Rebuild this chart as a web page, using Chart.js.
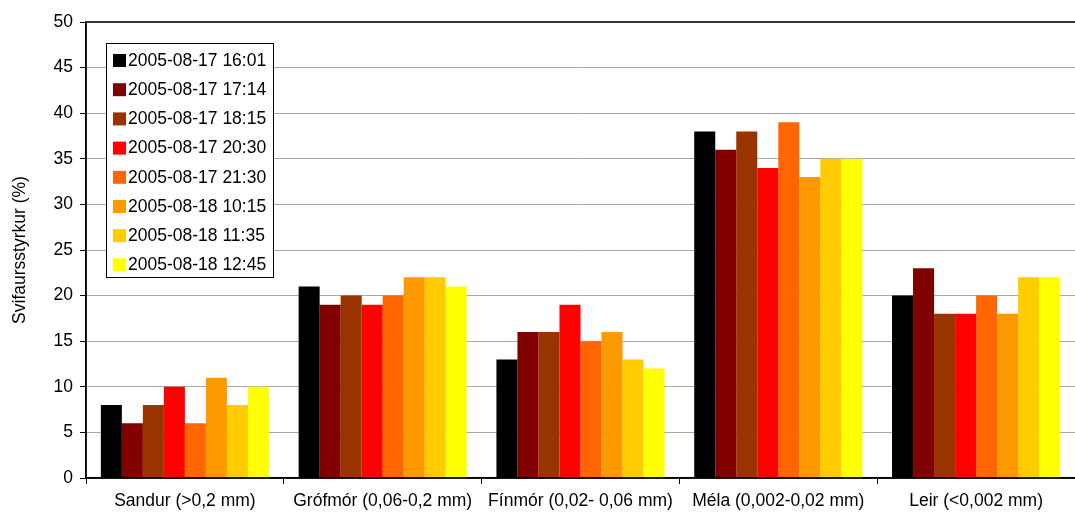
<!DOCTYPE html>
<html>
<head>
<meta charset="utf-8">
<script src="https://cdn.jsdelivr.net/npm/chart.js@4.4.1/dist/chart.umd.min.js"></script>
<style>
html,body{margin:0;padding:0;background:#fff;}
#wrap{width:1075px;height:513px;position:relative;}
</style>
</head>
<body>
<div id="wrap"><canvas id="c"></canvas></div>
<script>
const categories = ["Sandur (>0,2 mm)", "Grófmór (0,06-0,2 mm)", "Fínmór (0,02- 0,06 mm)", "Méla (0,002-0,02 mm)", "Leir (<0,002 mm)"];
const seriesLabels = ["2005-08-17 16:01", "2005-08-17 17:14", "2005-08-17 18:15", "2005-08-17 20:30", "2005-08-17 21:30", "2005-08-18 10:15", "2005-08-18 11:35", "2005-08-18 12:45"];
const s1601 = [8, 21, 13, 38, 20];
const s1714 = [6, 19, 16, 36, 23];
const s1815 = [8, 20, 16, 38, 18];
const s2030 = [10, 19, 19, 34, 18];
const s2130 = [6, 20, 15, 39, 20];
const s1015 = [11, 22, 16, 33, 18];
const s1135 = [8, 22, 13, 35, 22];
const s1245 = [10, 21, 12, 35, 22];
const seriesValues = [s1601, s1714, s1815, s2030, s2130, s1015, s1135, s1245];
const colors = ["#000000", "#800000", "#993300", "#FF0000", "#FF6600", "#FF9900", "#FFCC00", "#FFFF00"];
const yTicks = [0, 5, 10, 15, 20, 25, 30, 35, 40, 45, 50];
const yTitle = "Svifaursstyrkur (%)";

const FONT = "'Liberation Sans', Arial, sans-serif";
const FS = 17.5;

const insideLegend = {
  id: 'insideLegend',
  afterDraw(chart) {
    const ctx = chart.ctx;
    const ca = chart.chartArea;
    const x0 = Math.round(ca.left + 20), y0 = Math.round(ca.top + 21);
    const w = 167, h = 234;
    ctx.save();
    ctx.fillStyle = '#fff';
    ctx.fillRect(x0, y0, w, h);
    ctx.strokeStyle = '#000';
    ctx.lineWidth = 1;
    ctx.strokeRect(x0 + 0.5, y0 + 0.5, w, h);
    ctx.font = FS + "px " + FONT;
    ctx.textBaseline = 'middle';
    chart.data.datasets.forEach((ds, i) => {
      const cy = y0 + 17 + i * 29.2;
      ctx.fillStyle = ds.backgroundColor;
      ctx.fillRect(x0 + 7, cy - 6, 13, 13);
      ctx.fillStyle = '#000';
      ctx.fillText(ds.label, x0 + 22, cy + 1);
    });
    ctx.restore();
  }
};

const frame = {
  id: 'frame',
  afterDatasetsDraw(chart) {
    const ctx = chart.ctx;
    const ca = chart.chartArea;
    ctx.save();
    ctx.strokeStyle = '#333';
    ctx.lineWidth = 2;
    ctx.beginPath();
    ctx.moveTo(ca.left, ca.top);
    ctx.lineTo(ca.right, ca.top);
    ctx.stroke();
    ctx.strokeStyle = '#000';
    ctx.lineWidth = 1.5;
    ctx.beginPath();
    ctx.moveTo(ca.left, ca.top);
    ctx.lineTo(ca.left, ca.bottom);
    ctx.lineTo(ca.right, ca.bottom);
    ctx.stroke();
    ctx.restore();
  }
};

new Chart(document.getElementById('c'), {
  type: 'bar',
  data: {
    labels: categories,
    datasets: seriesLabels.map((l, i) => ({
      label: l,
      data: seriesValues[i],
      backgroundColor: colors[i],
      borderWidth: 0,
      categoryPercentage: 0.85,
      barPercentage: 1.0
    }))
  },
  options: {
    responsive: true,
    maintainAspectRatio: false,
    animation: false,
    layout: { padding: { top: 22, right: 0, bottom: 0, left: 4 } },
    plugins: { legend: { display: false }, tooltip: { enabled: false } },
    scales: {
      x: {
        afterFit(scale) { scale.height = 35; },
        grid: { display: true, drawOnChartArea: false, drawTicks: true, tickLength: 6, offset: true, color: '#000', lineWidth: 1 },
        border: { display: true, color: '#000', width: 1.5 },
        ticks: { color: '#000', font: { family: FONT, size: FS }, padding: 7, maxRotation: 0, autoSkip: false }
      },
      y: {
        min: 0, max: 50,
        afterBuildTicks(axis) { axis.ticks = yTicks.map(v => ({ value: v })); },
        afterFit(scale) { scale.width = 82; },
        grid: { color: '#a8a8a8', lineWidth: 1, tickLength: 6, tickColor: '#000' },
        border: { display: true, color: '#000', width: 1.5 },
        ticks: { color: '#000', font: { family: FONT, size: FS }, padding: 7 },
        title: { display: true, text: yTitle, color: '#000', font: { family: FONT, size: FS }, padding: { top: 6, bottom: 8 } }
      }
    }
  },
  plugins: [frame, insideLegend]
});
</script>
</body>
</html>
